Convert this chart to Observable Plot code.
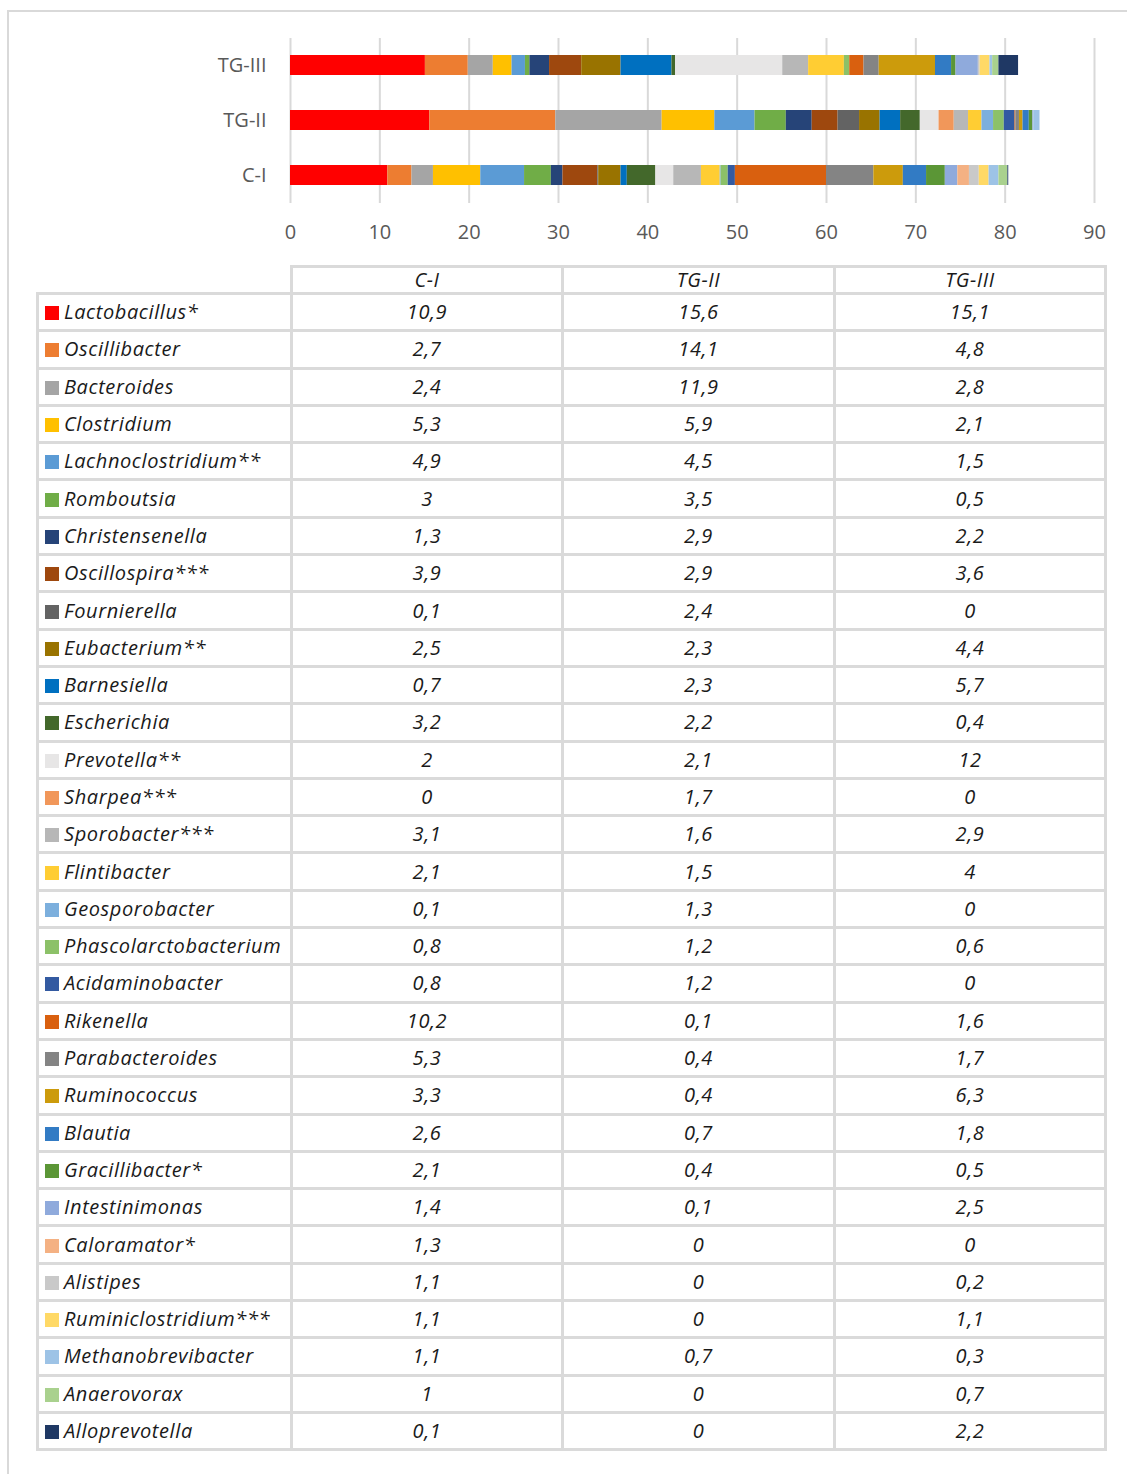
<!DOCTYPE html>
<html>
<head>
<meta charset="utf-8">
<script src="https://cdn.jsdelivr.net/npm/d3@7"></script>
<script src="https://cdn.jsdelivr.net/npm/@observablehq/plot@0.6"></script>
<style>
  html, body { margin: 0; padding: 0; background: #fff; }
  body { width: 1127px; height: 1474px; position: relative; overflow: hidden; font-family: "Open Sans", "Noto Sans", sans-serif; }
  #frame { position: absolute; left: 7px; top: 10px; width: 1200px; height: 1600px; border-top: 2px solid #d9d9d9; border-left: 2px solid #d9d9d9; }
  #chart { position: absolute; left: 0; top: 0; }
  #tbl { position: absolute; left: 36px; top: 265px; border-collapse: collapse; table-layout: fixed; }
  #tbl td, #tbl th { border: 3px solid #dadada; padding: 0; font-style: italic; font-weight: normal; color: #1a1a1a; font-size: 20px; letter-spacing: 0.6px; }
  #tbl th { height: 24px; text-align: center; line-height: 24px; }
  #tbl td { height: 34.3px; line-height: 34px; }
  #tbl td.num { text-align: center; }
  #tbl th.blank { border: none; }
  .sw { display: inline-block; width: 14px; height: 14px; margin: 0 5px 0 6px; vertical-align: -1px; }
</style>
</head>
<body>
<div id="frame"></div>
<div id="chart"></div>
<table id="tbl"></table>
<script>
const groups = ["C-I", "TG-II", "TG-III"];
const yOrder = ["TG-III", "TG-II", "C-I"];
const genera = ["Lactobacillus*", "Oscillibacter", "Bacteroides", "Clostridium", "Lachnoclostridium**", "Romboutsia", "Christensenella", "Oscillospira***", "Fournierella", "Eubacterium**", "Barnesiella", "Escherichia", "Prevotella**", "Sharpea***", "Sporobacter***", "Flintibacter", "Geosporobacter", "Phascolarctobacterium", "Acidaminobacter", "Rikenella", "Parabacteroides", "Ruminococcus", "Blautia", "Gracillibacter*", "Intestinimonas", "Caloramator*", "Alistipes", "Ruminiclostridium***", "Methanobrevibacter", "Anaerovorax", "Alloprevotella"];
const valuesCI   = [10.9, 2.7, 2.4, 5.3, 4.9, 3, 1.3, 3.9, 0.1, 2.5, 0.7, 3.2, 2, 0, 3.1, 2.1, 0.1, 0.8, 0.8, 10.2, 5.3, 3.3, 2.6, 2.1, 1.4, 1.3, 1.1, 1.1, 1.1, 1, 0.1];
const valuesTGII = [15.6, 14.1, 11.9, 5.9, 4.5, 3.5, 2.9, 2.9, 2.4, 2.3, 2.3, 2.2, 2.1, 1.7, 1.6, 1.5, 1.3, 1.2, 1.2, 0.1, 0.4, 0.4, 0.7, 0.4, 0.1, 0, 0, 0, 0.7, 0, 0];
const valuesTGIII= [15.1, 4.8, 2.8, 2.1, 1.5, 0.5, 2.2, 3.6, 0, 4.4, 5.7, 0.4, 12, 0, 2.9, 4, 0, 0.6, 0, 1.6, 1.7, 6.3, 1.8, 0.5, 2.5, 0, 0.2, 1.1, 0.3, 0.7, 2.2];
const colors = ["#FF0000", "#ED7D31", "#A5A5A5", "#FFC000", "#5B9BD5", "#70AD47", "#264478", "#9E480E", "#636363", "#997300", "#0070C0", "#43682B", "#E7E6E6", "#F1975A", "#B7B7B7", "#FFCD33", "#7CAFDD", "#8CC168", "#335AA1", "#D9600F", "#848484", "#CC9B0C", "#327BC4", "#5B9636", "#8FAADC", "#F4B183", "#C9C9C9", "#FFD966", "#9DC3E6", "#A9D18E", "#1F3864"];
const xTicks = [0, 10, 20, 30, 40, 50, 60, 70, 80, 90];

const series = {"C-I": valuesCI, "TG-II": valuesTGII, "TG-III": valuesTGIII};
const data = [];
genera.forEach((g, i) => groups.forEach(grp => data.push({genus: g, group: grp, value: series[grp][i]})));

const fmt = v => String(v).replace(".", ",");

const chart = Plot.plot({
  width: 1127,
  height: 250,
  marginLeft: 290,
  marginRight: 33,
  marginTop: 38,
  marginBottom: 47,
  style: {fontFamily: "'Open Sans', 'Noto Sans', sans-serif", background: "transparent"},
  x: {domain: [0, 90], ticks: xTicks},
  y: {domain: yOrder, paddingInner: 0.636, paddingOuter: 0.31},
  color: {domain: genera, range: colors},
  marks: [
    Plot.gridX(xTicks, {stroke: "#d9d9d9", strokeOpacity: 1, strokeWidth: 2}),
    Plot.barX(data, Plot.stackX({x: "value", y: "group", fill: "genus"})),
    Plot.axisX({ticks: xTicks, tickSize: 0, tickPadding: 21, fontSize: 20, fill: "#595959", label: null}),
    Plot.axisY({tickSize: 0, tickPadding: 24, fontSize: 20, fill: "#595959", label: null})
  ]
});
document.getElementById("chart").appendChild(chart);

// table
const tbl = document.getElementById("tbl");
const colW = [254, 271, 272, 271];
const cg = document.createElement("colgroup");
colW.forEach(w => { const c = document.createElement("col"); c.style.width = w + "px"; cg.appendChild(c); });
tbl.appendChild(cg);
const hr = document.createElement("tr");
const th0 = document.createElement("th"); th0.className = "blank"; hr.appendChild(th0);
groups.forEach(g => { const th = document.createElement("th"); th.textContent = g; hr.appendChild(th); });
tbl.appendChild(hr);
genera.forEach((g, i) => {
  const tr = document.createElement("tr");
  const td = document.createElement("td");
  const sw = document.createElement("span"); sw.className = "sw"; sw.style.background = colors[i];
  td.appendChild(sw);
  td.appendChild(document.createTextNode(g));
  tr.appendChild(td);
  groups.forEach(grp => { const c = document.createElement("td"); c.className = "num"; c.textContent = fmt(series[grp][i]); tr.appendChild(c); });
  tbl.appendChild(tr);
});
</script>
</body>
</html>
